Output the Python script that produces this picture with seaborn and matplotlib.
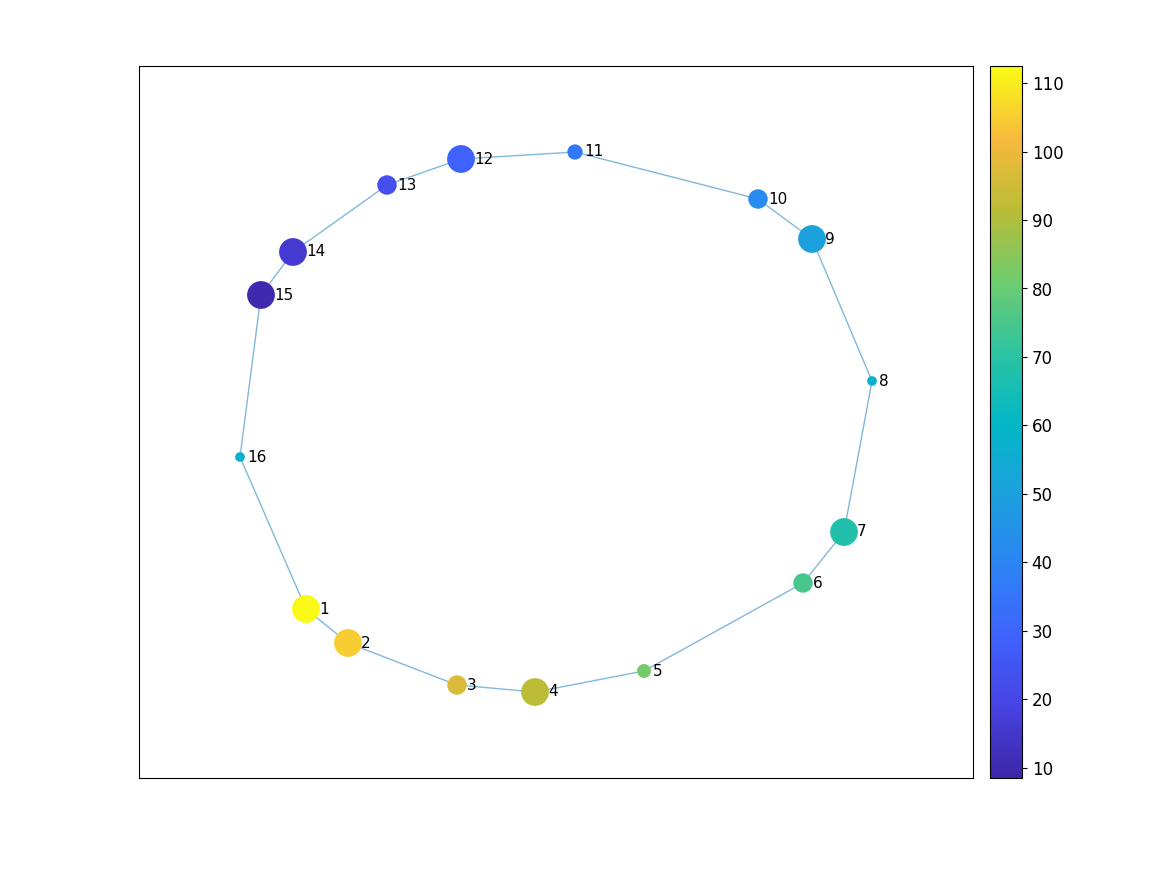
import numpy as np
import pandas as pd
import matplotlib
matplotlib.use("Agg")
import matplotlib.pyplot as plt
from matplotlib.colors import LinearSegmentedColormap, Normalize
import seaborn as sns

# node data
node_ids = list(range(1, 17))
node_x = [306, 348, 457, 535, 644, 803, 844, 872, 812, 758, 575, 461, 387, 293, 261, 240]
node_y = [-609, -643, -685, -692, -671, -583, -532, -381, -239, -199, -152, -159, -185, -252, -295, -457]
node_val = [112, 105, 97, 92, 82, 75, 68, 57, 50, 42, 36, 29, 23, 16, 10, 58]
node_size = [10, 10, 7, 10, 5, 7, 10, 3.5, 10, 7, 5.5, 10, 7, 10, 10, 3.5]

parula = LinearSegmentedColormap.from_list("parula", [
    (0.0, "#3e26a8"), (0.1, "#4743e3"), (0.2, "#3f63fe"), (0.3, "#2c84f4"),
    (0.4, "#1ca1dd"), (0.5, "#03b7c6"), (0.6, "#2ec4a0"), (0.7, "#70cc6d"),
    (0.8, "#bbbc36"), (0.9, "#f8ba3d"), (1.0, "#f9fb14")])
norm = Normalize(8.5, 112.5)

df = pd.DataFrame({"x": node_x, "y": node_y, "val": node_val, "size": node_size})

fig = plt.figure(figsize=(11.67, 8.75), dpi=100)
ax = fig.add_axes([139/1167, 1 - 778/875, (973-139)/1167, (778-66)/875])
cax = fig.add_axes([990/1167, 1 - 778/875, 32/1167, (778-66)/875])

# edges: ring 1-2-...-16-1
ex = node_x + [node_x[0]]
ey = node_y + [node_y[0]]
ax.plot(ex, ey, color=(0.5, 0.72, 0.87), lw=1, zorder=1)

sns.scatterplot(data=df, x="x", y="y", hue="val", palette=parula, hue_norm=norm,
                s=(np.array(node_size) * 2) ** 2, linewidth=0, legend=False, ax=ax, zorder=2)
for i, (x, y) in enumerate(zip(node_x, node_y)):
    ax.text(x + node_size[i] * 0.9 + 4, y, str(node_ids[i]), va="center", ha="left", fontsize=11)

ax.set_xlim(139, 973)
ax.set_ylim(-778, -66)
ax.set_xticks([])
ax.set_yticks([])
ax.set_xlabel("")
ax.set_ylabel("")
for s in ax.spines.values():
    s.set_linewidth(0.8)

sm = plt.cm.ScalarMappable(norm=norm, cmap=parula)
cb = fig.colorbar(sm, cax=cax, ticks=range(10, 111, 10))
cb.ax.tick_params(labelsize=12)
cb.outline.set_linewidth(0.8)

fig.savefig("out.png", dpi=100)
